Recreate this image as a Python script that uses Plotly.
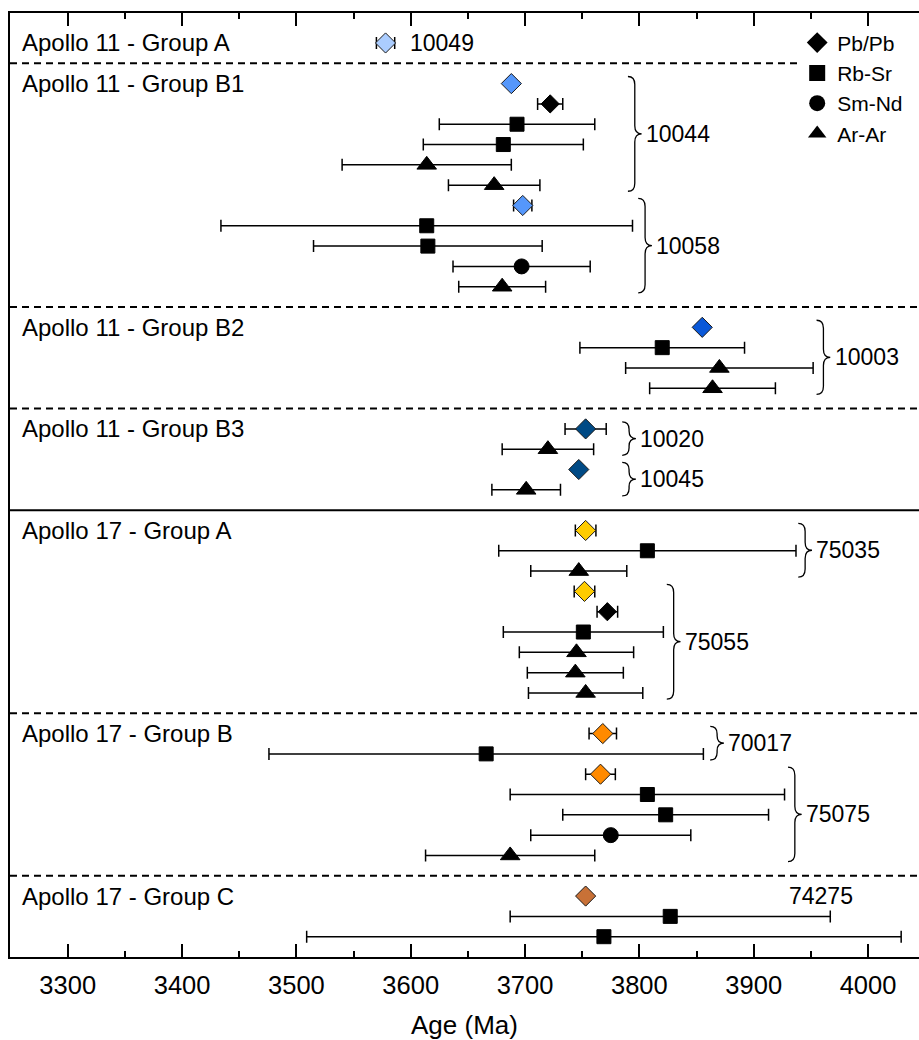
import plotly.graph_objects as go

# ---------------- data ----------------
groups = ["Apollo 11 - Group A", "Apollo 11 - Group B1", "Apollo 11 - Group B2",
          "Apollo 11 - Group B3", "Apollo 17 - Group A", "Apollo 17 - Group B",
          "Apollo 17 - Group C"]
group_colors = ["#abcdff", "#5597fb", "#0a58d8", "#004a85", "#ffcc00", "#ff8a00", "#c87137"]

point_group = [0,
               1, 1, 1, 1, 1, 1, 1, 1, 1, 1, 1,
               2, 2, 2, 2,
               3, 3, 3, 3,
               4, 4, 4, 4, 4, 4, 4, 4, 4,
               5, 5, 5, 5, 5, 5, 5,
               6, 6, 6]
point_sample = ["10049",
                "10044", "10044", "10044", "10044", "10044", "10044",
                "10058", "10058", "10058", "10058", "10058",
                "10003", "10003", "10003", "10003",
                "10020", "10020", "10045", "10045",
                "75035", "75035", "75035",
                "75055", "75055", "75055", "75055", "75055", "75055",
                "70017", "70017",
                "75075", "75075", "75075", "75075", "75075",
                "74275", "74275", "74275"]
point_method = ["Pb/Pb",
                "Pb/Pb", "Pb/Pb", "Rb-Sr", "Rb-Sr", "Ar-Ar", "Ar-Ar",
                "Pb/Pb", "Rb-Sr", "Rb-Sr", "Sm-Nd", "Ar-Ar",
                "Pb/Pb", "Rb-Sr", "Ar-Ar", "Ar-Ar",
                "Pb/Pb", "Ar-Ar", "Pb/Pb", "Ar-Ar",
                "Pb/Pb", "Rb-Sr", "Ar-Ar",
                "Pb/Pb", "Pb/Pb", "Rb-Sr", "Ar-Ar", "Ar-Ar", "Ar-Ar",
                "Pb/Pb", "Rb-Sr",
                "Pb/Pb", "Rb-Sr", "Rb-Sr", "Sm-Nd", "Ar-Ar",
                "Pb/Pb", "Rb-Sr", "Rb-Sr"]
# True = group-defining Pb/Pb age (coloured diamond)
point_group_age = [True,
                   True, False, False, False, False, False,
                   True, False, False, False, False,
                   True, False, False, False,
                   True, False, True, False,
                   True, False, False,
                   True, False, False, False, False, False,
                   True, False,
                   True, False, False, False, False,
                   True, False, False]
ages = [3578,
        3688, 3722, 3693, 3681, 3614, 3673,
        3698, 3614, 3615, 3697, 3680,
        3855, 3820, 3870, 3864,
        3753, 3720, 3747, 3701,
        3753, 3807, 3747,
        3752, 3772, 3751, 3745, 3744, 3753,
        3768, 3666,
        3766, 3807, 3823, 3775, 3687,
        3753, 3827, 3769]
errors = [8,
          0, 11, 68, 70, 74, 40,
          8, 180, 100, 60, 38,
          0, 72, 82, 55,
          18, 40, 0, 30,
          9, 130, 42,
          9, 9, 70, 50, 42, 50,
          12, 190,
          13, 120, 90, 70, 74,
          0, 140, 260]

x_ticks = [3300, 3400, 3500, 3600, 3700, 3800, 3900, 4000]

# ---------------- layout helpers (positions / styles) ----------------
FONT = "Liberation Sans, Arial, sans-serif"
brace_x = {"10044": 3790, "10058": 3799, "10003": 3955, "10020": 3785, "10045": 3785,
           "75035": 3939, "75055": 3824, "70017": 3862, "75075": 3930}
plain_label_x = {"10049": 3598, "74275": 3929}
BRACE_W = 12
LABEL_GAP = 14

# row positions: one empty slot between groups for the separator line
rows, seps = [], []
r, prev = -1, None
for g in point_group:
    if prev is not None and g != prev:
        seps.append((r + 1, groups[prev].split(" - ")[0] != groups[g].split(" - ")[0]))
        r += 2
    else:
        r += 1
    rows.append(r)
    prev = g
last_row = rows[-1]

symbols = {"Pb/Pb": "diamond", "Rb-Sr": "square", "Sm-Nd": "circle", "Ar-Ar": "triangle-up"}
sizes = {"Pb/Pb": 14, "Rb-Sr": 14, "Sm-Nd": 15, "Ar-Ar": 17}

fig = go.Figure()

for m in ["Rb-Sr", "Sm-Nd", "Ar-Ar", "Pb/Pb"]:
    idx = [i for i, mm in enumerate(point_method) if mm == m]
    xs = [ages[i] for i in idx]
    ys = [rows[i] for i in idx]
    es = [errors[i] for i in idx]
    colors = [group_colors[point_group[i]] if point_group_age[i] else "black" for i in idx]
    msize = [15.5 if point_group_age[i] else sizes[m] for i in idx]
    lcol = ["#1a1a1a" if point_group_age[i] else "black" for i in idx]
    fig.add_trace(go.Scatter(
        x=xs, y=ys, mode="markers", showlegend=False, name=m,
        marker=dict(symbol=symbols[m], size=msize, color=colors, opacity=1,
                    line=dict(color=lcol, width=1)),
        error_x=dict(type="data", array=es, visible=True, color="black",
                     thickness=1.5, width=6),
    ))

# legend entries
for m in ["Pb/Pb", "Rb-Sr", "Sm-Nd", "Ar-Ar"]:
    fig.add_trace(go.Scatter(
        x=[None], y=[None], mode="markers", name=m, showlegend=True,
        marker=dict(symbol=symbols[m], size=16, color="black", opacity=1),
    ))

shapes = []
for srow, solid in seps:
    first = srow == seps[0][0]
    shapes.append(dict(type="line", xref="paper", yref="y", x0=0, x1=0.866 if first else 1,
                       y0=srow, y1=srow,
                       line=dict(color="black", width=2, dash="solid" if solid else "7px,5px")))

annotations = []
# group labels
seen = set()
for i, g in enumerate(point_group):
    if g in seen:
        continue
    seen.add(g)
    annotations.append(dict(x=3258, y=rows[i], xref="x", yref="y", text=groups[g],
                            showarrow=False, xanchor="left", yanchor="middle",
                            font=dict(family=FONT, size=24, color="black")))

# sample labels and braces
samples_order = []
for s in point_sample:
    if s not in samples_order:
        samples_order.append(s)
for s in samples_order:
    srows = [rows[i] for i, ss in enumerate(point_sample) if ss == s]
    if s in brace_x:
        x0 = brace_x[s]
        xm = x0 + BRACE_W / 2
        x1 = x0 + BRACE_W
        y0 = min(srows) - 0.35
        y1 = max(srows) + 0.3
        ym = (y0 + y1) / 2
        q = min(0.4, (y1 - y0) / 4.5)
        path = (f"M{x0},{y0} Q{xm},{y0} {xm},{y0 + q} L{xm},{ym - q} "
                f"Q{xm},{ym} {x1},{ym} Q{xm},{ym} {xm},{ym + q} "
                f"L{xm},{y1 - q} Q{xm},{y1} {x0},{y1}")
        shapes.append(dict(type="path", xref="x", yref="y", path=path,
                           line=dict(color="black", width=1.3)))
        annotations.append(dict(x=x0 + LABEL_GAP, y=ym, xref="x", yref="y", text=s,
                                showarrow=False, xanchor="left", yanchor="middle",
                                font=dict(family=FONT, size=23, color="black")))
    else:
        annotations.append(dict(x=plain_label_x[s], y=srows[0], xref="x", yref="y", text=s,
                                showarrow=False, xanchor="left", yanchor="middle",
                                font=dict(family=FONT, size=23, color="black")))

fig.update_layout(
    width=919, height=1040,
    margin=dict(l=10, r=0, t=13, b=83),
    plot_bgcolor="white", paper_bgcolor="white",
    font=dict(family=FONT, color="black"),
    shapes=shapes, annotations=annotations,
    legend=dict(x=0.866, y=0.99, xanchor="left", yanchor="top",
                bgcolor="rgba(0,0,0,0)", font=dict(family=FONT, size=21, color="black"),
                tracegroupgap=0, itemwidth=30),
    xaxis=dict(range=[3249.5, 4044.6], tickvals=x_ticks, ticks="inside", ticklen=13,
               tickwidth=1.5, tickcolor="black", showline=True, linewidth=2, linecolor="black",
               mirror="ticks", showgrid=False, zeroline=False, ticklabelstandoff=4,
               minor=dict(ticks="inside", ticklen=6, tickwidth=1.5, tickcolor="black",
                          dtick=50, tick0=3250, showgrid=False),
               tickfont=dict(family=FONT, size=25.5, color="black"),
               title=dict(text="Age (Ma)", font=dict(family=FONT, size=26, color="black"),
                          standoff=18)),
    yaxis=dict(range=[last_row + 1, -1.476], showline=True, linewidth=2, linecolor="black",
               showticklabels=False, ticks="", showgrid=False, zeroline=False),
)

fig.write_html("out.html")
